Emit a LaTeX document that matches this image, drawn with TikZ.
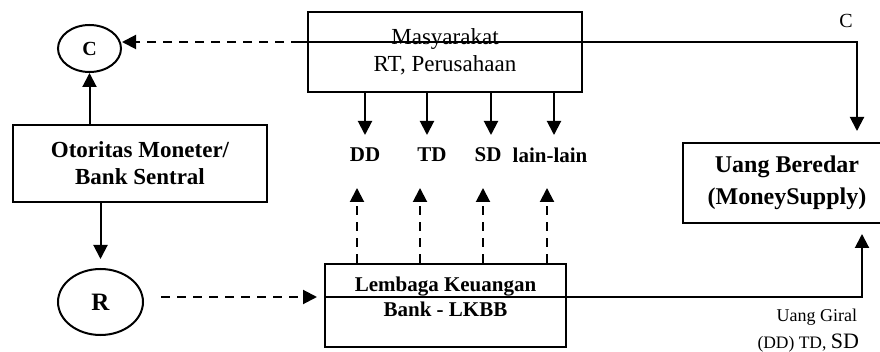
\documentclass[tikz,border=0pt]{standalone}
\usepackage{fontspec}
\setmainfont{Liberation Serif}
\usetikzlibrary{arrows.meta,shapes.geometric}
\begin{document}
\begin{tikzpicture}[x=1pt,y=-1pt,
  line width=2pt,
  >={Triangle[length=14pt,width=14pt]},
  box/.style={draw,rectangle,inner sep=0pt,align=center},
  oval/.style={draw,ellipse,inner sep=0pt},
  dsh/.style={dash pattern=on 9pt off 7pt},
  lbl/.style={inner sep=0pt,font=\fontsize{21}{24}\selectfont\bfseries}
]
\clip (0,0) rectangle (880,352);

% central bank and its two instruments
\node[oval,minimum width=63pt,minimum height=47pt,font=\fontsize{20}{24}\selectfont\bfseries] (c) at (89.5,48.5) {C};
\node[box,minimum width=254pt,minimum height=77pt,font=\fontsize{23}{27}\selectfont\bfseries] (ot) at (140,163.5) {Otoritas Moneter/\\Bank Sentral};
\node[oval,minimum width=85pt,minimum height=66pt,font=\fontsize{25}{28}\selectfont\bfseries] (r) at (100.5,302) {R};

% households / firms and the financial institutions
\node[box,minimum width=274pt,minimum height=80pt,font=\fontsize{23}{27}\selectfont] (mas) at (445,52) {Masyarakat\\RT, Perusahaan};
\node[box,minimum width=241pt,minimum height=83pt,text depth=17pt,font=\fontsize{21}{25}\selectfont\bfseries] (lk) at (445.5,305.5) {Lembaga Keuangan\\Bank - LKBB};

% money supply (runs past the right edge)
\node[box,minimum width=208pt,minimum height=80pt,font=\fontsize{24}{32}\selectfont\bfseries] (ub) at (787,183) {Uang Beredar\\(MoneySupply)};

% deposit types
\node[lbl] (dd) at (365,155) {DD};
\node[lbl] (td) at (432,155) {TD};
\node[lbl] (sd) at (488,155) {SD};
\node[lbl] (ll) at (550,155) {lain-lain};

% free labels
\node[inner sep=0pt,font=\fontsize{20}{22}\selectfont] (clab) at (846,21) {C};
\node[inner sep=0pt,anchor=base east,font=\fontsize{18}{20}\selectfont] (giral) at (858,322) {Uang Giral};
\node[inner sep=0pt,anchor=base east,font=\fontsize{17.5}{20}\selectfont] (giral2) at (860,348) {(DD) TD, {\fontsize{22}{24}\selectfont SD}};

% central bank arrows
\draw[->] (ot.north -| c.south) -- (c.south);
\draw[->,shorten >=9pt] (ot.south -| r.north) -- (r.north);

% currency path
\coordinate (ctop) at (300,42);
\coordinate (cturn) at (857,42);
\draw[->,dsh] (ctop) -- (c.east |- ctop);
\draw[->,shorten >=11pt] (ctop) -- (cturn) -- (cturn |- ub.north);

% deposits from households
\foreach \x/\n in {365/dd,427/td,491/sd,554/ll}
  \draw[->] (mas.south -| \x,0) -- (\x,135);

% dashed arrows from the institutions to the deposits
\foreach \x in {357,420,483,547}
  \draw[->,dsh] (lk.north -| \x,0) -- (\x,188);

% reserves into the institutions, demand deposits into money supply
\coordinate (lkin) at (324,297);
\coordinate (bturn) at (862,297);
\draw[->,dsh,shorten <=17pt,shorten >=7pt] (r.east |- lkin) -- (lkin);
\draw[->,shorten >=10pt] (lkin) -- (bturn) -- (bturn |- ub.south);
\end{tikzpicture}
\end{document}
